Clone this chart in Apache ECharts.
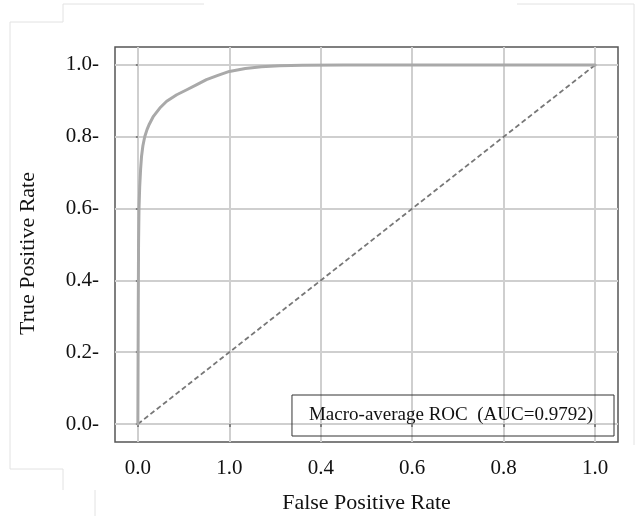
<!DOCTYPE html>
<html><head><meta charset="utf-8">
<script src="https://cdn.jsdelivr.net/npm/echarts@6/dist/echarts.min.js"></script>
<style>html,body{margin:0;padding:0;background:#fff}#c{width:635px;height:516px}</style>
</head><body><div id="c"></div>
<script>
// ROC curve points [FPR, TPR]
const rocFPR = [0, 0.0008, 0.0015, 0.0025, 0.004, 0.006, 0.008, 0.011, 0.015, 0.02, 0.025, 0.034, 0.048, 0.063, 0.085, 0.107, 0.13, 0.15, 0.175, 0.2, 0.235, 0.27, 0.31, 0.36, 0.45, 0.6, 0.8, 1.0];
const rocTPR = [0, 0.30, 0.50, 0.60, 0.66, 0.71, 0.745, 0.775, 0.80, 0.82, 0.835, 0.857, 0.880, 0.899, 0.917, 0.931, 0.946, 0.959, 0.971, 0.982, 0.990, 0.995, 0.998, 0.999, 1.0, 1.0, 1.0, 1.0];
const diagFPR = [0, 1];
const diagTPR = [0, 1];
const tickValues = [0, 0.2, 0.4, 0.6, 0.8, 1.0];
const xTickLabels = ['0.0', '1.0', '0.4', '0.6', '0.8', '1.0'];
const yTickLabels = ['0.0-', '0.2-', '0.4-', '0.6-', '0.8-', '1.0-'];
const seriesName = 'Macro-average ROC  (AUC=0.9792)';

const FONT = '"Liberation Serif", "DejaVu Serif", serif';
function labelFor(arr) {
  return function (v) {
    const i = tickValues.findIndex(t => Math.abs(t - v) < 1e-6);
    return i >= 0 ? arr[i] : '';
  };
}
const chart = echarts.init(document.getElementById('c'), null, {renderer: 'canvas'});
const faint = {stroke: '#e2e2e2', lineWidth: 1};
chart.setOption({
  backgroundColor: '#fff',
  animation: false,
  grid: {left: 115, right: 17, top: 47, bottom: 74, show: true, borderColor: '#555', borderWidth: 1.5, backgroundColor: 'transparent', containLabel: false, outerBoundsMode: 'none'},
  xAxis: {
    type: 'value', min: -0.05, max: 1.05,
    name: 'False Positive Rate', nameLocation: 'middle', nameGap: 50,
    nameTextStyle: {fontFamily: FONT, fontSize: 22, color: '#111'},
    axisLine: {show: false},
    axisTick: {show: true, customValues: tickValues, length: 3, lineStyle: {color: '#666', width: 1.5}},
    axisLabel: {customValues: tickValues, formatter: labelFor(xTickLabels), margin: 16, fontFamily: FONT, fontSize: 21, color: '#111'},
    splitLine: {show: true, lineStyle: {color: '#cfcfcf', width: 2}}
  },
  yAxis: {
    type: 'value', min: -0.05, max: 1.05,
    name: 'True Positive Rate', nameLocation: 'middle', nameGap: 76,
    nameTextStyle: {fontFamily: FONT, fontSize: 22, color: '#111', padding: [0, 18, 0, 0]},
    axisLine: {show: false},
    axisTick: {show: true, customValues: tickValues, length: 2, lineStyle: {color: '#666', width: 1.5}},
    axisLabel: {customValues: tickValues, formatter: labelFor(yTickLabels), margin: 16, fontFamily: FONT, fontSize: 21, color: '#111'},
    splitLine: {show: true, lineStyle: {color: '#cfcfcf', width: 2}}
  },
  legend: {
    data: [seriesName], right: 21, bottom: 80,
    icon: 'rect', itemWidth: 0, itemHeight: 0, itemGap: 0,
    borderColor: '#333', borderWidth: 1, borderRadius: 0,
    padding: [11, 21, 11, 12],
    textStyle: {fontFamily: FONT, fontSize: 19, color: '#111'},
    selectedMode: false
  },
  series: [
    {
      name: seriesName, type: 'line', showSymbol: false, smooth: false,
      data: rocFPR.map((x, i) => [x, rocTPR[i]]),
      lineStyle: {color: '#a9a9a9', width: 3, join: 'round', cap: 'round'},
      itemStyle: {color: '#a9a9a9'}, z: 3
    },
    {
      name: 'chance', type: 'line', showSymbol: false,
      data: diagFPR.map((x, i) => [x, diagTPR[i]]),
      lineStyle: {color: '#777', width: 1.8, type: [5, 3]},
      itemStyle: {color: '#777'}, z: 2
    }
  ],
  graphic: [
    {type: 'polyline', shape: {points: [[204, 4], [63, 4], [63, 22], [10, 22], [10, 469], [63, 469], [63, 490]]}, style: Object.assign({fill: null}, faint), silent: true},
    {type: 'line', shape: {x1: 95, y1: 490, x2: 95, y2: 516}, style: faint, silent: true},
    {type: 'polyline', shape: {points: [[517, 4], [634, 4], [634, 445]]}, style: Object.assign({fill: null}, faint), silent: true}
  ]
});
</script></body></html>
